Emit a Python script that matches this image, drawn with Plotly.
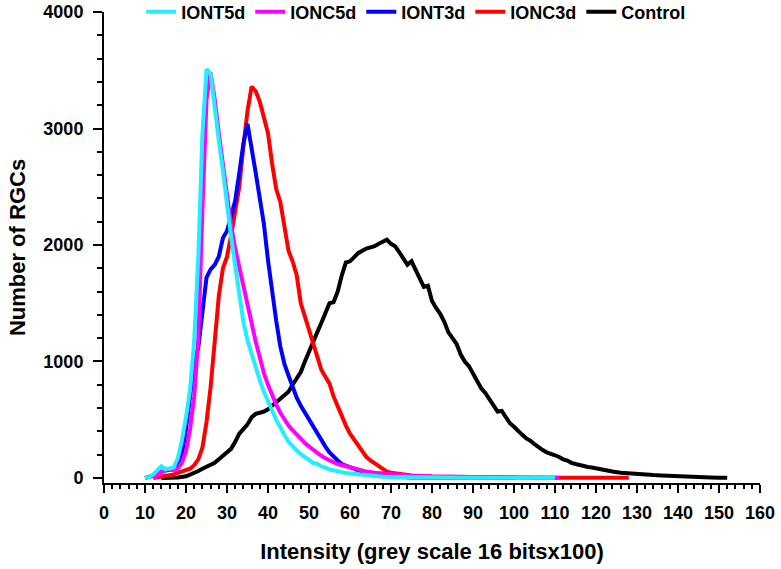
import plotly.graph_objects as go

# ---- data ----
iont5d_x = [10, 11, 12, 13, 14, 15, 16, 17, 18, 19, 20, 21, 22, 23, 24, 25, 26, 27, 28, 29, 30,
            31, 32, 33, 34, 35, 36, 37, 38, 39, 40, 41, 42, 43, 44, 45, 46, 47, 48, 49, 50,
            51, 52, 53, 54, 55, 56, 57, 58, 59, 60, 62, 64, 66, 68, 70, 75, 80, 90, 100, 110]
iont5d_y = [0, 10, 30, 60, 100, 75, 80, 90, 170, 320, 520, 760, 1180, 1900, 2950, 3510, 3470, 3150, 2900, 2640, 2330,
            2070, 1820, 1570, 1340, 1180, 1060, 950, 840, 740, 650, 580, 500, 430, 370, 310, 270, 235, 205, 180, 150,
            130, 122, 100, 90, 72, 66, 55, 50, 42, 38, 30, 20, 15, 10, 8, 5, 4, 3, 2, 2]

ionc5d_x = [12, 13, 14, 15, 16, 17, 18, 19, 20, 21, 22, 23, 24, 25, 26, 27, 28, 29, 30,
            31, 32, 33, 34, 35, 36, 37, 38, 39, 40, 41, 42, 43, 44, 45, 46, 47, 48, 49, 50,
            51, 52, 53, 54, 55, 56, 57, 58, 59, 60, 62, 64, 66, 68, 70, 75, 80, 90, 100, 111]
ionc5d_y = [0, 20, 50, 70, 75, 65, 80, 130, 230, 420, 700, 1200, 2300, 3250, 3480, 3250, 2960, 2680, 2400,
            2170, 1970, 1800, 1640, 1490, 1330, 1170, 1020, 900, 800, 710, 630, 560, 500, 450, 410, 370, 330, 300, 270,
            240, 215, 190, 170, 150, 135, 120, 110, 100, 95, 70, 55, 45, 38, 30, 20, 12, 6, 4, 3]

iont3d_x = [10, 11, 12, 13, 14, 15, 16, 17, 18, 19, 20, 21, 22, 23, 24, 25, 26, 27, 28, 29, 30,
            31, 32, 33, 34, 35, 36, 37, 38, 39, 40, 41, 42, 43, 44, 45, 46, 47, 48, 49, 50,
            51, 52, 53, 54, 55, 56, 57, 58, 59, 60, 62, 64, 66, 68, 70, 75, 80, 90, 100]
iont3d_y = [0, 10, 20, 40, 55, 65, 70, 75, 110, 200, 420, 680, 980, 1120, 1450, 1720, 1790, 1830, 1900, 2060, 2120,
            2250, 2380, 2620, 2870, 3040, 2850, 2620, 2400, 2180, 1870, 1600, 1350, 1130, 980, 880, 780, 690, 620, 560, 500,
            440, 380, 330, 270, 220, 180, 150, 120, 105, 90, 65, 50, 35, 20, 10, 5, 3, 2, 2]

ionc3d_x = [12, 13, 14, 15, 16, 17, 18, 19, 20, 21, 22, 23, 24, 25, 26, 27, 28, 29, 30,
            31, 32, 33, 34, 35, 36, 37, 38, 39, 40, 41, 42, 43, 44, 45, 46, 47, 48, 49, 50,
            51, 52, 53, 54, 55, 56, 57, 58, 59, 60, 61, 62, 63, 64, 65, 66, 67, 68, 69, 70,
            72, 75, 80, 90, 100, 110, 120, 128]
ionc3d_y = [0, 5, 10, 15, 20, 30, 45, 55, 65, 80, 110, 160, 260, 480, 780, 1200, 1560, 1800, 1900,
            2080, 2280, 2500, 2850, 3150, 3360, 3320, 3230, 3080, 2960, 2700, 2480, 2370, 2180, 1950, 1860, 1740, 1500, 1380, 1260,
            1160, 1020, 930, 870, 810, 700, 610, 520, 450, 380, 330, 280, 220, 180, 150, 125, 110, 80, 55, 45,
            35, 22, 12, 6, 4, 3, 2, 2]

control_x = [14, 16, 18, 20, 22, 23, 24, 25, 26, 27, 28, 29, 30,
             31, 32, 33, 34, 35, 36, 37, 38, 39, 40, 41, 42, 43, 44, 45, 46, 47, 48, 49, 50,
             51, 52, 53, 54, 55, 56, 57, 58, 59, 60, 61, 62, 63, 64, 65, 66, 67, 68, 69, 70,
             71, 72, 73, 74, 75, 76, 77, 78, 79, 80, 81, 82, 83, 84, 85, 86, 87, 88, 89, 90,
             91, 92, 93, 94, 95, 96, 97, 98, 99, 100, 101, 102, 103, 104, 105, 106, 107, 108, 109, 110,
             111, 112, 113, 114, 115, 116, 117, 118, 119, 120, 122, 124, 126, 128, 130, 132, 134, 136, 138, 140,
             142, 144, 146, 148, 150, 152]
control_y = [0, 2, 5, 15, 40, 60, 80, 95, 110, 130, 160, 190, 220,
             250, 310, 380, 420, 460, 520, 550, 560, 570, 590, 620, 650, 680, 700, 740, 800, 850, 910, 1000, 1090,
             1170, 1250, 1330, 1420, 1500, 1510, 1600, 1740, 1850, 1860, 1900, 1930, 1950, 1970, 1980, 1990, 2010, 2030, 2045, 2010,
             1990, 1940, 1880, 1830, 1860, 1780, 1700, 1640, 1650, 1520, 1460, 1410, 1340, 1250, 1200, 1150, 1060, 1000, 960, 900,
             830, 770, 730, 680, 620, 570, 575, 520, 470, 440, 400, 370, 340, 320, 290, 260, 240, 220, 210, 195,
             180, 160, 150, 130, 120, 110, 105, 95, 90, 82, 70, 55, 45, 38, 32, 28, 25, 22, 18, 15,
             12, 10, 8, 5, 3, 2]

x_tickvals = list(range(0, 161, 10))
y_tickvals = [0, 1000, 2000, 3000, 4000]

series = [
    ("Control", control_x, control_y, "#000000", 5),
    ("IONC3d", ionc3d_x, ionc3d_y, "#FF0000", 4),
    ("IONT3d", iont3d_x, iont3d_y, "#0000FF", 3),
    ("IONC5d", ionc5d_x, ionc5d_y, "#FF00FF", 2),
    ("IONT5d", iont5d_x, iont5d_y, "#22EEFF", 1),
]

FONT = "Arial, 'Liberation Sans', sans-serif"

fig = go.Figure()
for name, xs, ys, col, rank in series:
    fig.add_trace(go.Scatter(x=xs, y=ys, mode="lines", name=name,
                             line=dict(color=col, width=4), legendrank=rank))

fig.update_layout(
    width=781, height=569,
    margin=dict(l=104, r=21, t=12, b=86, autoexpand=False),
    paper_bgcolor="white", plot_bgcolor="white",
    font=dict(family=FONT, size=18, color="black", weight="bold"),
    legend=dict(orientation="h", x=0.476, xanchor="center", y=1.0, yanchor="middle",
                font=dict(size=18, weight="bold"), bgcolor="rgba(0,0,0,0)",
                itemwidth=30, tracegroupgap=0),
    showlegend=True,
)
fig.update_xaxes(
    range=[0, 160], tickvals=x_tickvals, ticktext=[str(v) for v in x_tickvals],
    showline=True, linecolor="black", linewidth=2, mirror=False,
    ticks="outside", ticklen=8, tickwidth=2, tickcolor="black", ticklabelstandoff=4,
    ticklabeloverflow="allow",
    minor=dict(dtick=2, ticks="outside", ticklen=4, tickwidth=1.5, tickcolor="black", showgrid=False),
    showgrid=False, zeroline=False, automargin=False,
    tickfont=dict(size=18, weight="bold"),
    title=dict(text="Intensity (grey scale 16 bitsx100)", font=dict(size=22, weight="bold"), standoff=22),
)
fig.update_yaxes(
    range=[-43, 4000], tickvals=y_tickvals, ticktext=[str(v) for v in y_tickvals],
    showline=True, linecolor="black", linewidth=2, mirror=False,
    ticks="outside", ticklen=9, tickwidth=2, tickcolor="black", ticklabelstandoff=6,
    ticklabeloverflow="allow",
    minor=dict(dtick=200, tick0=0, ticks="outside", ticklen=5, tickwidth=1.5, tickcolor="black", showgrid=False),
    showgrid=False, zeroline=False, automargin=False,
    tickfont=dict(size=18, weight="bold"),
    title=dict(text="Number of RGCs", font=dict(size=22, weight="bold"), standoff=12),
)

# remove the page's default body margin so the figure fills the window exactly
fig.write_html("out.html", config={"displayModeBar": False},
               post_script="document.body.style.margin='0';")
